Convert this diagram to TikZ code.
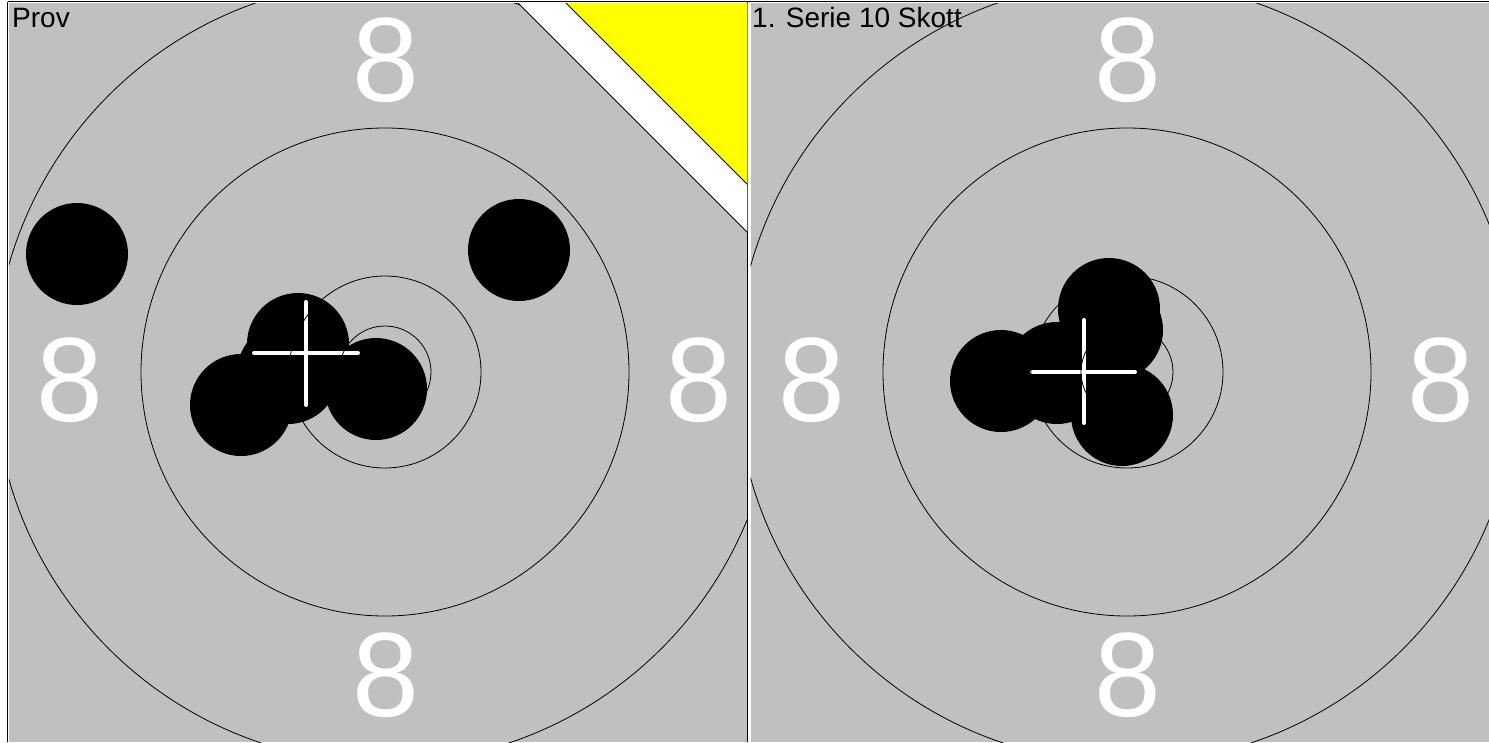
\documentclass[tikz,border=0pt]{standalone}
\usepackage{fontspec}
\setmainfont{Liberation Sans}
\definecolor{panelgray}{RGB}{192,192,192}
\definecolor{flagyellow}{RGB}{255,255,0}
\begin{document}
\begin{tikzpicture}[x=1pt,y=-1pt]
\tikzset{
  ring/.style={draw=black,line width=0.8pt},
  shot/.style={fill=black},
  crossbar/.style={draw=white,line width=4pt,line cap=round},
  ringnum/.style={text=white,font=\fontsize{120}{120}\selectfont,inner sep=0pt,anchor=center},
  paneltitle/.style={font=\fontsize{28}{28}\selectfont,inner sep=0pt,anchor=base west},
  frameline/.style={draw=black,line width=1pt},
}
\useasboundingbox (0,0) rectangle (1489,742);
\fill[white] (0,0) rectangle (1489,742);
\draw[frameline] (7.5,1.5) -- (1489,1.5);
\draw[frameline] (7.5,1.5) -- (7.5,742);
\draw[frameline] (747.8,1.5) -- (747.8,742);
% ---------- left panel ----------
\begin{scope}
\clip (9,3) rectangle (747.3,742);
\fill[panelgray] (9,3) rectangle (747.3,742);
\node[ringnum] (l8t) at (386,60) {8};
\node[ringnum] (l8b) at (386,675) {8};
\node[ringnum] (l8l) at (70,380) {8};
\node[ringnum] (l8r) at (699,380) {8};
\foreach \p in {(77,254),(519,250),(298,344),(288,373),(241,405),(376,389)}
  \fill[shot] \p circle (51);
\draw[crossbar] (254,353) -- (358,353);
\draw[crossbar] (306,302) -- (306,405);
\foreach \r in {46,96,244,391}
  \draw[ring] (385,372) circle (\r);
\filldraw[fill=white,draw=black,line width=0.8pt] (517,2) -- (748,2) -- (748,233) -- cycle;
\filldraw[fill=flagyellow,draw=black,line width=0.8pt] (565,2) -- (748,2) -- (748,185) -- cycle;
\node[paneltitle] (prov) at (12,27) {Prov};
\end{scope}
% ---------- right panel ----------
\begin{scope}
\clip (750.5,3) rectangle (1489,742);
\fill[panelgray] (750.5,3) rectangle (1489,742);
\node[ringnum] (r8t) at (1128,60) {8};
\node[ringnum] (r8b) at (1128,675) {8};
\node[ringnum] (r8l) at (812,380) {8};
\node[ringnum] (r8r) at (1441,380) {8};
\foreach \p in {(1001,381),(1057,373),(1112,330),(1109,309),(1122,415)}
  \fill[shot] \p circle (51);
\draw[crossbar] (1032,372) -- (1135,372);
\draw[crossbar] (1084,320) -- (1084,423);
\node[paneltitle] (serie) at (752,27) {1. Serie 10 Skott};
\foreach \r in {46,96,244,391}
  \draw[ring] (1127,372) circle (\r);
\end{scope}
\end{tikzpicture}
\end{document}
